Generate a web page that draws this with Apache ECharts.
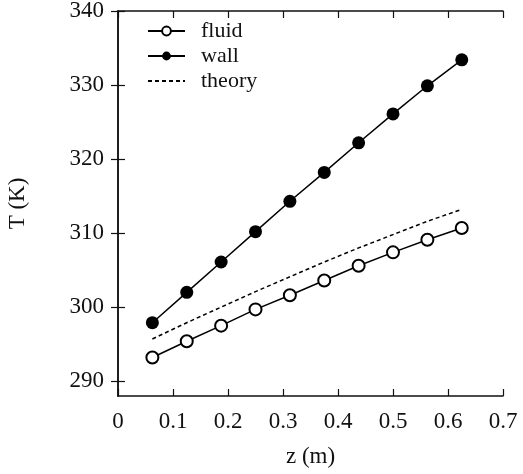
<!DOCTYPE html>
<html>
<head>
<meta charset="utf-8">
<script src="https://cdn.jsdelivr.net/npm/echarts@6/dist/echarts.min.js"></script>
<style>html,body{margin:0;padding:0;background:#fff;}#c{width:523px;height:474px;}</style>
</head>
<body>
<div id="c"></div>
<script>
const zPos = [0.0625, 0.125, 0.1875, 0.25, 0.3125, 0.375, 0.4375, 0.5, 0.5625, 0.625];
const fluid = [293.2, 295.4, 297.5, 299.7, 301.6, 303.6, 305.6, 307.4, 309.1, 310.7];
const wall = [297.9, 302.0, 306.1, 310.2, 314.3, 318.2, 322.2, 326.1, 329.9, 333.4];
const theory = [295.7, 297.9, 300.0, 302.1, 304.1, 306.1, 308.0, 309.8, 311.6, 313.2];
const yTicks = [290, 300, 310, 320, 330, 340];
const seriesNames = ['fluid', 'wall', 'theory'];

const font = "'Liberation Serif', 'Times New Roman', serif";
const ink = '#111';
const pair = (xs, ys) => xs.map((x, i) => [x, ys[i]]);

const chart = echarts.init(document.getElementById('c'), null, {renderer: 'canvas'});
const axisLine = {show: true, lineStyle: {color: ink, width: 1.5}};
const tick = {show: true, inside: true, length: 7, lineStyle: {color: ink, width: 1.2}};

chart.setOption({
  backgroundColor: '#fff',
  animation: false,
  grid: {left: 118, right: 20, top: 11, bottom: 78, containLabel: false, outerBoundsMode: 'none'},
  legend: {
    orient: 'vertical', left: 147, top: 20, itemGap: 3, padding: 0,
    itemWidth: 37, itemHeight: 11,
    textStyle: {fontFamily: font, fontSize: 22, color: ink, lineHeight: 22, padding: [0, 0, 0, 11]},
    data: [
      {name: seriesNames[0]},
      {name: seriesNames[1]},
      {name: seriesNames[2], itemStyle: {opacity: 0}}
    ]
  },
  xAxis: [{
    type: 'value', min: 0, max: 0.7, interval: 0.1,
    name: 'z (m)', nameLocation: 'middle', nameGap: 49,
    nameTextStyle: {fontFamily: font, fontSize: 23, color: ink},
    axisLine: axisLine, axisTick: tick, splitLine: {show: false},
    axisLabel: {fontFamily: font, fontSize: 23, color: ink, margin: 14,
      formatter: v => v === 0 ? '0' : v.toFixed(1)}
  }, {
    type: 'value', min: 0, max: 0.7, interval: 0.1, position: 'top',
    axisLine: axisLine, axisTick: tick, splitLine: {show: false}, axisLabel: {show: false}
  }],
  yAxis: [{
    type: 'value', min: 288, max: 340,
    name: 'T (K)', nameLocation: 'middle', nameGap: 89, nameRotate: 90,
    nameTextStyle: {fontFamily: font, fontSize: 23, color: ink},
    axisLine: axisLine, splitLine: {show: false},
    axisTick: Object.assign({}, tick, {customValues: yTicks}),
    axisLabel: {fontFamily: font, fontSize: 23, color: ink, margin: 14, customValues: yTicks}
  }, {
    type: 'value', min: 288, max: 340, position: 'right',
    axisLine: axisLine, splitLine: {show: false}, axisLabel: {show: false},
    axisTick: Object.assign({}, tick, {customValues: yTicks})
  }],
  series: [{
    name: 'fluid', type: 'line', data: pair(zPos, fluid),
    symbol: 'emptyCircle', symbolSize: 12, color: '#000',
    itemStyle: {color: '#000', borderWidth: 1.5},
    lineStyle: {color: '#000', width: 1.5}
  }, {
    name: 'wall', type: 'line', data: pair(zPos, wall),
    symbol: 'circle', symbolSize: 13, color: '#000',
    itemStyle: {color: '#000'},
    lineStyle: {color: '#000', width: 1.5}
  }, {
    name: 'theory', type: 'line', data: pair(zPos, theory),
    showSymbol: false, symbol: 'none', color: '#000',
    lineStyle: {color: '#000', width: 1.5, type: [4, 3]}
  }]
});
</script>
</body>
</html>
